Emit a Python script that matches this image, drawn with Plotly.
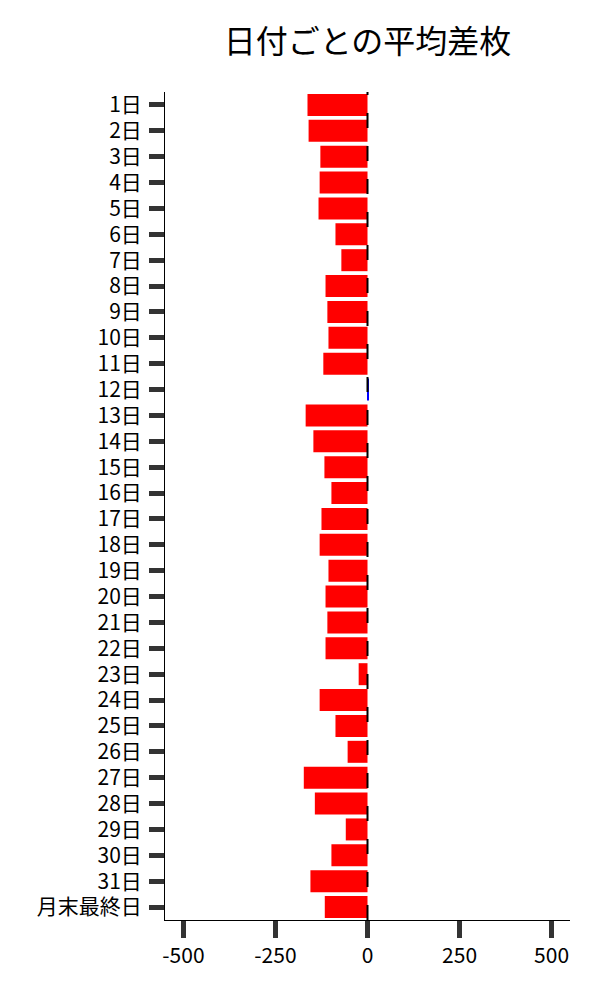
import plotly.graph_objects as go

days = [f"{i}日" for i in range(1, 32)] + ["月末最終日"]
avg_diff = [-163, -160, -128, -130, -133, -87, -71, -114, -109, -106, -120, 3,
            -168, -147, -117, -98, -125, -130, -106, -114, -109, -114, -24,
            -130, -87, -54, -173, -143, -59, -98, -155, -116]

x_ticks = [-500, -250, 0, 250, 500]

colors = ["#0000ff" if v > 0 else "#ff0000" for v in avg_diff]

font = "Noto Sans CJK JP"

fig = go.Figure(go.Bar(x=avg_diff, y=days, orientation="h",
                       marker=dict(color=colors, line=dict(width=0))))

# dashed line at zero, drawn bottom to top
fig.add_shape(type="line", x0=0, x1=0, y0=0, y1=1, xref="x", yref="paper",
              line=dict(color="black", width=2, dash="15px,18px"))

# page body has an 8px margin, so margins are shifted to compensate
fig.update_layout(
    width=600, height=1000,
    margin=dict(l=157, r=38, t=84, b=88),
    plot_bgcolor="white", paper_bgcolor="white",
    bargap=0.15,
    showlegend=False,
    font=dict(family=font, size=21, color="black"),
    title=dict(text="日付ごとの平均差枚", x=0.5, xref="paper", xanchor="center",
               y=0.966, yanchor="middle", font=dict(family=font, size=32, color="black")),
)
fig.update_yaxes(categoryorder="array", categoryarray=days, autorange="reversed",
                 showline=True, linecolor="black", linewidth=1, showgrid=False, zeroline=False,
                 ticks="outside", ticklen=15, tickwidth=5, tickcolor="#333",
                 ticklabelstandoff=3,
                 tickfont=dict(family=font, size=21, color="black"))
fig.update_xaxes(range=[-550, 550], tickvals=x_ticks, ticktext=[str(v) for v in x_ticks],
                 showline=True, linecolor="black", linewidth=1, showgrid=False, zeroline=False,
                 ticks="outside", ticklen=17, tickwidth=5, tickcolor="#333",
                 tickfont=dict(family=font, size=21, color="black"))

fig.write_html("out.html")
